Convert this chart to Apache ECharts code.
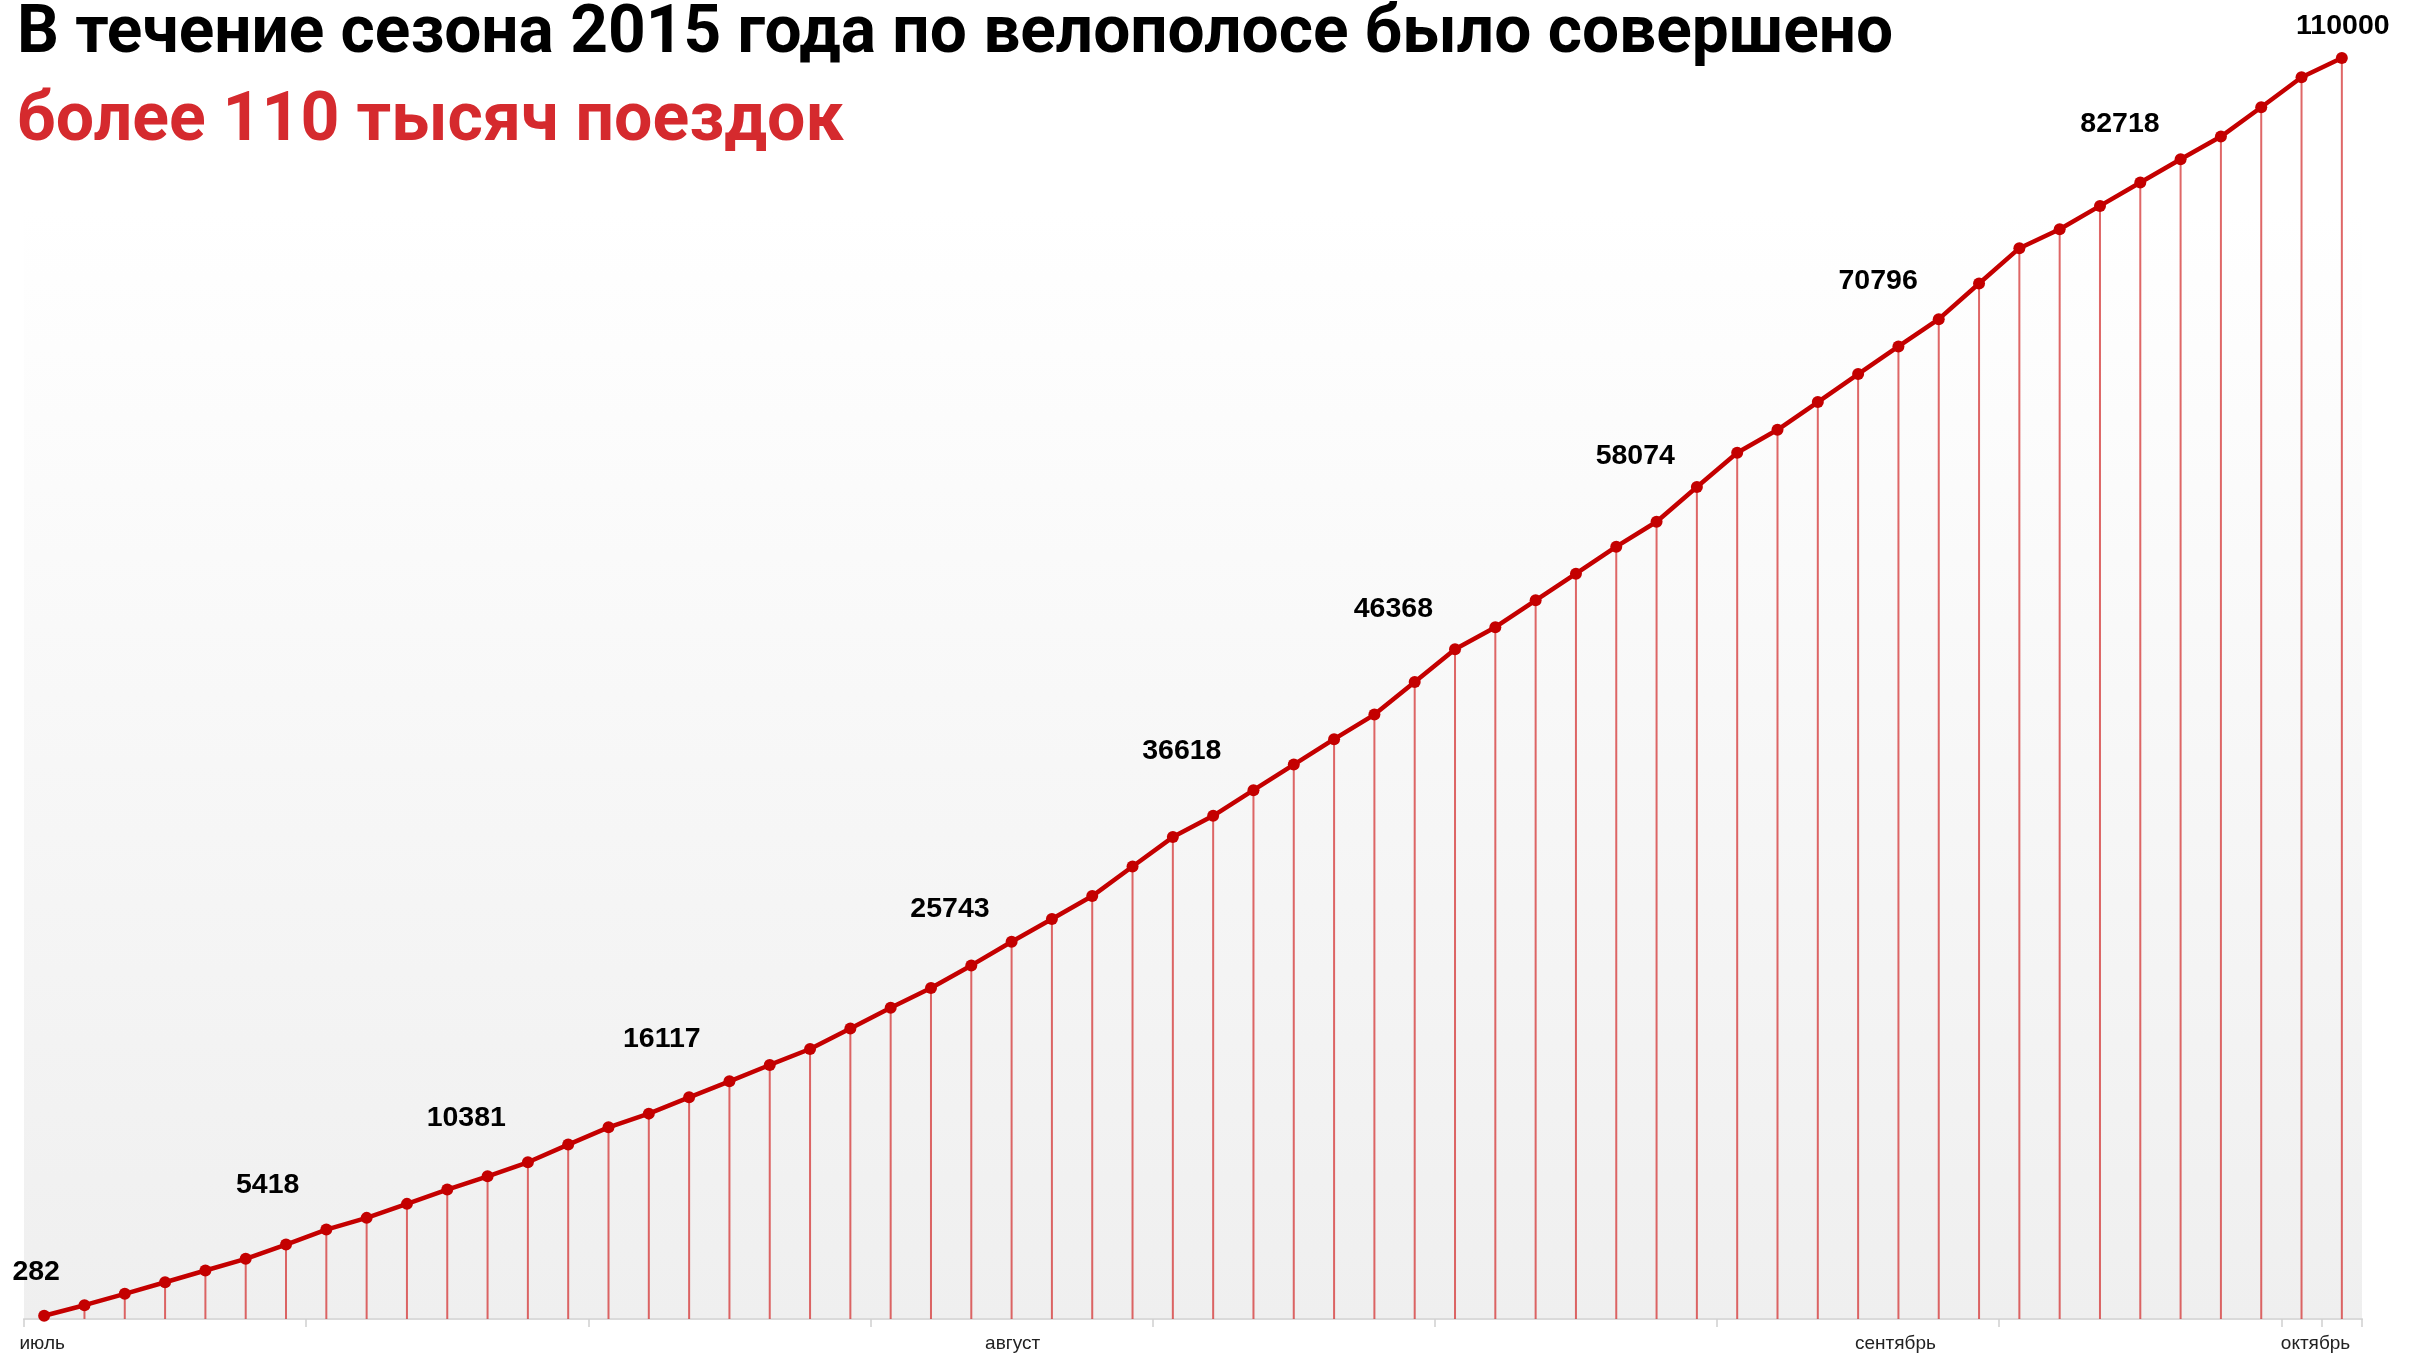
<!DOCTYPE html>
<html>
<head>
<meta charset="utf-8">
<title>Велополоса 2015</title>
<script src="https://cdn.jsdelivr.net/npm/echarts/dist/echarts.min.js"></script>
<style>
  html, body { margin: 0; padding: 0; background: #fff; }
  #chart { width: 2417px; height: 1355px; }
</style>
</head>
<body>
<div id="chart"></div>
<script>
  // накопленное число поездок, по точкам слева направо
  const rides = [282, 1203, 2197, 3208, 4228, 5248, 6495, 7802, 8822, 10043, 11289,
    12449, 13669, 15212, 16720, 17915, 19336, 20731, 22160, 23555, 25351,
    27155, 28873, 30843, 32909, 34888, 36893, 39474, 42037, 43893, 46134,
    48366, 50580, 52724, 55575, 58426, 60344, 62697, 65016, 67370, 69549,
    72574, 75564, 77569, 79984, 82425, 84840, 87220, 90332, 93410,
    95066, 97097, 99137, 101168, 103147, 105701, 108317, 110000]

  // подписи над линией
  const labelIdx = [0, 5, 10, 15, 22, 28, 33, 39, 45, 51, 57]
  const labelText = ['282', '5418', '10381', '16117', '25743', '36618', '46368', '58074', '70796', '82718', '110000']

  // месяцы на оси
  const monthNames = ['июль', 'август', 'сентябрь', 'октябрь']
  const monthAt = [0, 24, 46, 56]

  const titleLine1 = 'В течение сезона 2015 года по велополосе было совершено'
  const titleLine2 = 'более 110 тысяч поездок'

  // сдвиг подписей относительно точки (px)
  const labelShift = [[-8, -44], [22, -74], [19, -71], [13, -74], [19, -79], [9, -86],
    [19, -105], [19, -91], [20, -93], [20, -82], [1, -32]]
  // сдвиг подписей месяцев по горизонтали (px)
  const monthShift = [-4, 2, -6, 28]

  const categories = rides.map((v, i) => String(i + 1))

  const lineData = rides.map((v, i) => {
    const k = labelIdx.indexOf(i)
    if (k < 0) return v
    return {
      value: v,
      label: {
        show: true,
        position: 'inside',
        formatter: labelText[k],
        offset: labelShift[k]
      }
    }
  })

  const monthRich = {}
  monthShift.forEach((s, k) => {
    monthRich['m' + k] = {
      padding: s >= 0 ? [0, 0, 0, s] : [0, -s, 0, 0],
      fontFamily: 'Liberation Sans',
      fontSize: 19,
      color: '#222'
    }
  })

  const chart = echarts.init(document.getElementById('chart'))
  chart.setOption({
    animation: false,
    backgroundColor: '#fff',
    title: [{
      text: titleLine1,
      left: 17,
      top: 3,
      padding: 0,
      textStyle: {
        fontFamily: 'Roboto',
        fontWeight: 'bold',
        fontSize: 65.8,
        lineHeight: 66,
        color: '#000'
      }
    }, {
      text: titleLine2,
      left: 17,
      top: 89,
      padding: 0,
      textStyle: {
        fontFamily: 'Roboto',
        fontWeight: 'bold',
        fontSize: 68,
        lineHeight: 68,
        color: '#d52a2e'
      }
    }],
    grid: {
      left: 24,
      right: 55,
      top: 58,
      bottom: 36,
      outerBoundsMode: 'none',
      show: true,
      borderWidth: 0,
      backgroundColor: new echarts.graphic.LinearGradient(0, 0, 0, 1, [
        {offset: 0, color: '#ffffff'},
        {offset: 0.12, color: '#ffffff'},
        {offset: 1, color: '#efefef'}
      ])
    },
    xAxis: {
      type: 'category',
      data: categories,
      boundaryGap: true,
      axisLine: {lineStyle: {color: '#dadada', width: 2}},
      axisTick: {show: true, interval: 6, length: 8, lineStyle: {color: '#d0d0d0', width: 1.5}},
      axisLabel: {
        interval: 0,
        margin: 15,
        fontFamily: 'Liberation Sans',
        fontSize: 19,
        color: '#222',
        rich: monthRich,
        formatter: function (v, i) {
          const k = monthAt.indexOf(i)
          return k < 0 ? '' : '{m' + k + '|' + monthNames[k] + '}'
        }
      },
      splitLine: {show: false}
    },
    yAxis: {
      type: 'value',
      min: 0,
      max: 110000,
      show: false,
      splitLine: {show: false}
    },
    series: [{
      // тонкие вертикальные линии до оси
      type: 'bar',
      data: rides,
      barWidth: 2,
      silent: true,
      z: 1,
      itemStyle: {color: 'rgba(212, 52, 52, 0.75)'}
    }, {
      type: 'line',
      data: lineData,
      z: 3,
      symbol: 'circle',
      symbolSize: 12,
      lineStyle: {color: '#c40000', width: 4.5},
      itemStyle: {color: '#c40000'},
      label: {
        show: false,
        fontFamily: 'Liberation Sans',
        fontWeight: 'bold',
        fontSize: 28.5,
        color: '#000'
      }
    }]
  })
</script>
</body>
</html>
